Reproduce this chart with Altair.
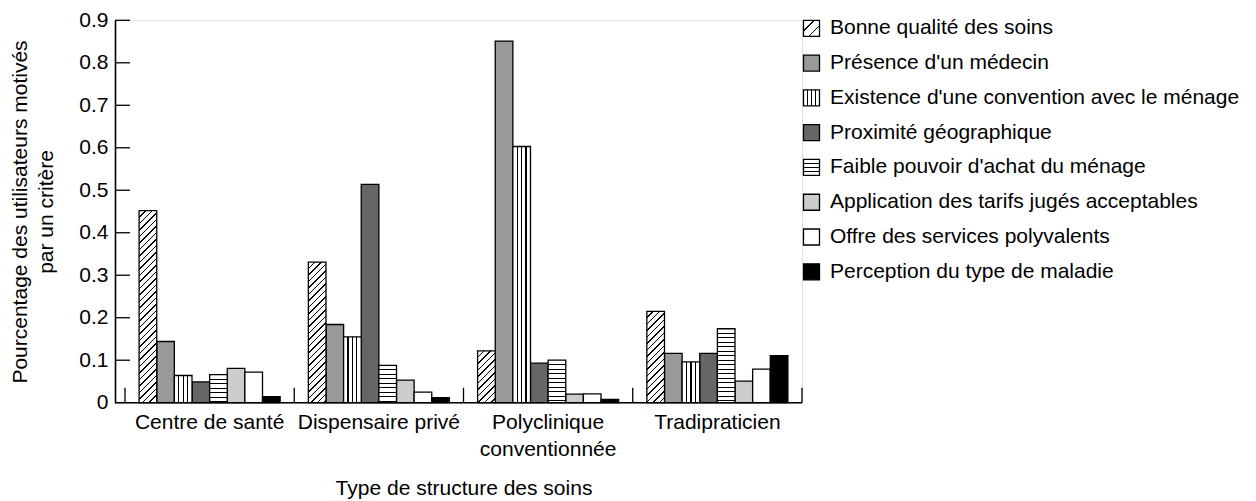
import altair as alt
import pandas as pd

# ---------------- data ----------------
categories = ["Centre de santé", "Dispensaire privé", "Polyclinique conventionnée", "Tradipraticien"]
series = [
    "Bonne qualité des soins",
    "Présence d'un médecin",
    "Existence d'une convention avec le ménage",
    "Proximité géographique",
    "Faible pouvoir d'achat du ménage",
    "Application des tarifs jugés acceptables",
    "Offre des services polyvalents",
    "Perception du type de maladie",
]
bonne = [0.452, 0.331, 0.122, 0.215]
presence = [0.144, 0.184, 0.851, 0.116]
existence = [0.064, 0.155, 0.603, 0.096]
proximite = [0.049, 0.514, 0.093, 0.116]
faible = [0.066, 0.088, 0.100, 0.174]
application = [0.081, 0.053, 0.020, 0.051]
offre = [0.072, 0.025, 0.021, 0.079]
perception = [0.014, 0.012, 0.008, 0.111]
y_ticks = [0.1, 0.2, 0.3, 0.4, 0.5, 0.6, 0.7, 0.8, 0.9]

values = [bonne, presence, existence, proximite, faible, application, offre, perception]
rows = []
for s, vals in zip(series, values):
    for c, v in zip(categories, vals):
        rows.append({"cat": c, "series": s, "value": v})
df = pd.DataFrame(rows)

solid_series = [series[1], series[3], series[5], series[6], series[7]]
solid_colors = ["#999999", "#666666", "#cccccc", "#ffffff", "#000000"]

# ---------------- layout ----------------
W, H = 687, 382.4
YMAX = 0.9
FONT = "Liberation Sans"
FS = 21
STEP_OFF_PAD = 0.8
bar_w = (W - 10) / 4 / (8 + 2 * STEP_OFF_PAD)


def stops_from(centers, half):
    st = [{"offset": 0, "color": "white"}]
    for c in centers:
        a = max(0.0, c - half)
        b = min(1.0, c + half)
        st += [
            {"offset": a, "color": "white"},
            {"offset": a, "color": "black"},
            {"offset": b, "color": "black"},
            {"offset": b, "color": "white"},
        ]
    st.append({"offset": 1, "color": "white"})
    return st


def diag_grad(w, h, period=6.5, thick=1.5):
    L = w + h
    c = (w + h) / (w * w + h * h)
    centers = []
    k = 1
    while k * period < L - 0.5:
        centers.append(k * period / L)
        k += 1
    return {"gradient": "linear", "x1": 0, "y1": 0, "x2": c * w, "y2": c * h,
            "stops": stops_from(centers, thick / 2 / L)}


def hstripe_grad(h, period=4.5, thick=1.3):
    centers = []
    k = 1
    while k * period < h - 1:
        centers.append(k * period / h)
        k += 1
    return {"gradient": "linear", "x1": 0, "y1": 0, "x2": 0, "y2": 1,
            "stops": stops_from(centers, thick / 2 / h)}


def vstripe_grad(w, n=4, thick=1.3):
    centers = [k / n for k in range(1, n)]
    return {"gradient": "linear", "x1": 0, "y1": 0, "x2": 1, "y2": 0,
            "stops": stops_from(centers, thick / 2 / w)}


xsc = alt.Scale(domain=categories, range=[10, W], paddingInner=0, paddingOuter=0)
xos = alt.Scale(domain=series, paddingInner=0, paddingOuter=STEP_OFF_PAD)
ysc = alt.Scale(domain=[0, YMAX], nice=False, zero=True)

XTITLE = "Type de structure des soins"
YTITLE = ["Pourcentage des utilisateurs motivés", "par un critère"]

xax = alt.Axis(
    domain=False, ticks=False, labelAngle=0, labelFontSize=FS, labelColor="black",
    labelPadding=9, labelLineHeight=27, labelFont=FONT,
    labelExpr="datum.label == 'Polyclinique conventionnée' ? ['Polyclinique', 'conventionnée'] : datum.label",
    titleFontSize=FS, titleFontWeight="normal", titleColor="black", titleFont=FONT,
    titlePadding=18,
)
yax = alt.Axis(
    values=[0, 0.1, 0.2, 0.3, 0.4, 0.5, 0.6, 0.7, 0.8, 0.9], format=".1~f",
    domain=True, domainColor="black", domainWidth=1.6, ticks=False, grid=False,
    labelFontSize=FS, labelColor="black", labelPadding=7, labelFont=FONT,
    titleFontSize=FS, titleFontWeight="normal", titleColor="black", titleFont=FONT,
    titleLineHeight=26, titlePadding=22,
)


def enc_bar():
    return dict(
        x=alt.X("cat:N", scale=xsc, axis=xax, title=XTITLE),
        xOffset=alt.XOffset("series:N", scale=xos),
        y=alt.Y("value:Q", scale=ysc, axis=yax, title=YTITLE),
    )


base = alt.Chart(df)
bar_kw = dict(stroke="black", strokeWidth=1.3)
layers = []

# solid bars
layers.append(
    base.transform_filter(alt.FieldOneOfPredicate(field="series", oneOf=solid_series))
    .mark_bar(**bar_kw)
    .encode(fill=alt.Fill("series:N", scale=alt.Scale(domain=solid_series, range=solid_colors), legend=None),
            **enc_bar())
)
# vertical stripes
layers.append(
    base.transform_filter(alt.datum.series == series[2])
    .mark_bar(fill=vstripe_grad(bar_w), **bar_kw)
    .encode(**enc_bar())
)
# diagonal hatch and horizontal stripes, one bar each (pattern scaled to the bar)
for c, v in zip(categories, bonne):
    h = v / YMAX * H
    layers.append(
        base.transform_filter((alt.datum.series == series[0]) & (alt.datum.cat == c))
        .mark_bar(fill=diag_grad(bar_w, h), **bar_kw)
        .encode(**enc_bar())
    )
for c, v in zip(categories, faible):
    h = v / YMAX * H
    layers.append(
        base.transform_filter((alt.datum.series == series[4]) & (alt.datum.cat == c))
        .mark_bar(fill=hstripe_grad(h), **bar_kw)
        .encode(**enc_bar())
    )

# baseline, category separators, inward y ticks
layers.append(
    alt.Chart(pd.DataFrame({"z": [0]})).mark_rule(color="black", strokeWidth=1.6)
    .encode(y=alt.Y("z:Q", scale=ysc, axis=yax, title=YTITLE), x=alt.value(0), x2=alt.value(W))
)
layers.append(
    alt.Chart(pd.DataFrame({"cat": categories})).mark_rule(color="black", strokeWidth=1.3)
    .encode(x=alt.X("cat:N", bandPosition=0, scale=xsc, axis=xax, title=XTITLE),
            y=alt.value(H), y2=alt.value(H - 15))
)
layers.append(
    alt.Chart(pd.DataFrame({"z": [0]})).mark_rule(color="black", strokeWidth=1.3)
    .encode(x=alt.value(W), y=alt.value(H), y2=alt.value(H - 15))
)
layers.append(
    alt.Chart(pd.DataFrame({"t": y_ticks})).mark_rule(color="black", strokeWidth=1.3)
    .encode(y=alt.Y("t:Q", scale=ysc, axis=yax, title=YTITLE), x=alt.value(0), x2=alt.value(15))
)

main = alt.layer(*layers)

# ---------------- legend ----------------
leg_df = pd.DataFrame({"series": series})
lsc = alt.Scale(type="point", domain=series, range=[8, 251.5], padding=0)
LX = 696.5
SW = 16
sq_kw = dict(size=SW * SW, shape="square", stroke="black", strokeWidth=1.3, opacity=1)
lbase = alt.Chart(leg_df)
leg_layers = [
    lbase.transform_filter(alt.FieldOneOfPredicate(field="series", oneOf=solid_series))
    .mark_point(filled=True, **sq_kw)
    .encode(x=alt.value(LX), y=alt.Y("series:N", scale=lsc, axis=None),
            fill=alt.Fill("series:N", scale=alt.Scale(domain=solid_series, range=solid_colors), legend=None)),
    lbase.transform_filter(alt.datum.series == series[0])
    .mark_point(filled=True, fill=diag_grad(SW, SW, period=32 / 3, thick=1.5), **sq_kw)
    .encode(x=alt.value(LX), y=alt.Y("series:N", scale=lsc, axis=None)),
    lbase.transform_filter(alt.datum.series == series[2])
    .mark_point(filled=True, fill=vstripe_grad(SW), **sq_kw)
    .encode(x=alt.value(LX), y=alt.Y("series:N", scale=lsc, axis=None)),
    lbase.transform_filter(alt.datum.series == series[4])
    .mark_point(filled=True, fill=hstripe_grad(SW, period=4.0), **sq_kw)
    .encode(x=alt.value(LX), y=alt.Y("series:N", scale=lsc, axis=None)),
    lbase.mark_text(align="left", baseline="middle", fontSize=FS, font=FONT, color="black")
    .encode(x=alt.value(715), y=alt.Y("series:N", scale=lsc, axis=None), text="series:N"),
]
legend = alt.layer(*leg_layers)

chart = (
    alt.layer(main, legend)
    .resolve_scale(y="independent", fill="shared")
    .properties(
        width=W, height=H,
        autosize=alt.AutoSizeParams(type="none"),
        padding={"left": 115, "top": 20.3, "right": 1256 - 115 - W, "bottom": 501 - 20.3 - H},
        background="white",
    )
    .configure_view(stroke=None)
    .configure(font=FONT)
)

chart.save("out.html", embed_options={"renderer": "svg", "actions": False})
